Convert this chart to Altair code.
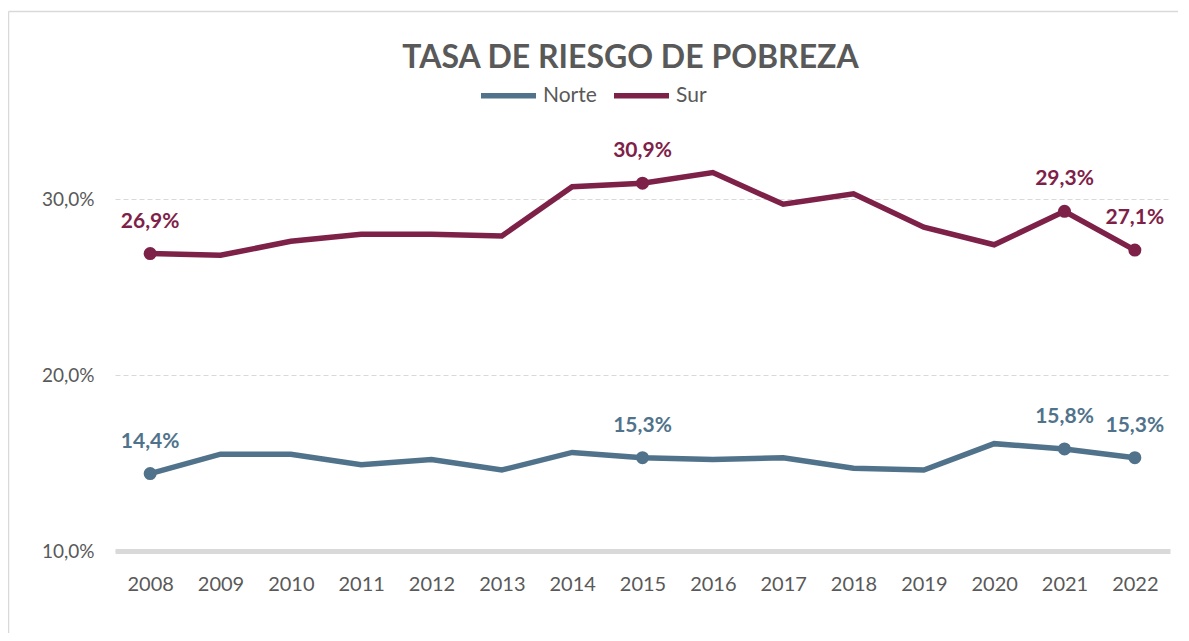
import altair as alt
import pandas as pd

years = ["2008", "2009", "2010", "2011", "2012", "2013", "2014", "2015",
         "2016", "2017", "2018", "2019", "2020", "2021", "2022"]
norte = [14.4, 15.5, 15.5, 14.9, 15.2, 14.6, 15.6, 15.3, 15.2, 15.3, 14.7, 14.6, 16.1, 15.8, 15.3]
sur = [26.9, 26.8, 27.6, 28.0, 28.0, 27.9, 30.7, 30.9, 31.5, 29.7, 30.3, 28.4, 27.4, 29.3, 27.1]
labeled_years = ["2008", "2015", "2021", "2022"]
regions = ["Norte", "Sur"]
colors = ["#50738b", "#7e2148"]
y_ticks = [10, 20, 30]

rows = []
for r, vals in zip(regions, [norte, sur]):
    for yr, v in zip(years, vals):
        rows.append({"region": r, "year": yr, "value": v, "labeled": yr in labeled_years})
df = pd.DataFrame(rows)

FONT = "Lato"
GREY = "#595959"
FRAME = "#d9d9d9"

base = alt.Chart(df).encode(
    x=alt.X("year:O", title=None, sort=years,
            scale=alt.Scale(type="point", padding=0.5),
            axis=alt.Axis(labelAngle=0, ticks=False, tickSize=0, domain=True,
                          domainColor="#d9d9d9", domainWidth=5, labelPadding=23,
                          labelFont=FONT, labelFontSize=20, labelColor=GREY, grid=False)),
    y=alt.Y("value:Q", title=None,
            scale=alt.Scale(domain=[10, 35], nice=False, zero=False),
            axis=alt.Axis(values=y_ticks, ticks=False, tickSize=0, domain=False,
                          grid=True, gridColor="#d9d9d9", gridDash=[5, 3], gridWidth=1,
                          labelExpr="replace(format(datum.value, '.1f'), '.', ',') + '%'",
                          labelPadding=21, labelFont=FONT, labelFontSize=19, labelColor=GREY)),
    color=alt.Color("region:N", scale=alt.Scale(domain=regions, range=colors),
                    legend=alt.Legend(title=None, orient="none", direction="horizontal",
                                      legendX=363, legendY=-46, symbolType="stroke",
                                      symbolSize=3025, symbolStrokeWidth=5.5,
                                      labelFont=FONT, labelFontSize=21, labelColor=GREY,
                                      labelOffset=4, columnPadding=6, padding=0)),
)

lines = base.mark_line(strokeWidth=5.5)
points = base.mark_circle(size=170, opacity=1).transform_filter("datum.labeled")
labels = base.mark_text(dy=-32, font=FONT, fontSize=21, fontWeight="bold").encode(
    text="label:N"
).transform_filter("datum.labeled").transform_calculate(
    label="replace(format(datum.value, '.1f'), '.', ',') + '%'"
)

frame_src = alt.Chart(alt.Data(values=[{}]))
frame_top = frame_src.mark_rule(stroke=FRAME, strokeWidth=1.5).encode(
    x=alt.value(-106.5), x2=alt.value(1063), y=alt.value(-99.5))
frame_left = frame_src.mark_rule(stroke=FRAME, strokeWidth=1.5).encode(
    x=alt.value(-106.5), y=alt.value(-99.5), y2=alt.value(522))

chart = alt.layer(frame_top, frame_left, lines, points, labels).properties(
    width=1055, height=440,
    autosize="none",
    padding={"left": 107, "top": 103, "right": 8, "bottom": 82},
    title=alt.TitleParams("TASA DE RIESGO DE POBREZA", anchor="middle", font=FONT,
                          fontSize=32, fontWeight="bold", color=GREY, dx=-12,
                          baseline="alphabetic", offset=0, dy=89),
).configure_view(stroke=None)

chart.save("out.html", embed_options={"renderer": "svg", "actions": False})
